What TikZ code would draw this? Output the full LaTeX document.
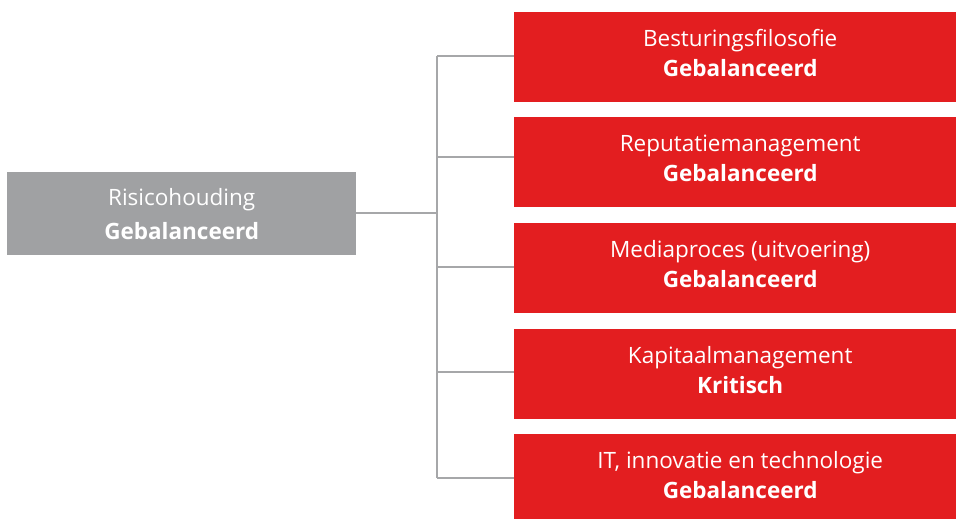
\documentclass[tikz,border=0pt]{standalone}
\usepackage{fontspec}
\setmainfont[Ligatures={NoCommon}]{Open Sans}
\definecolor{boxred}{HTML}{E31E20}
\definecolor{boxgray}{HTML}{A0A1A3}
\definecolor{linegray}{HTML}{A6A7A9}
\begin{document}
\begin{tikzpicture}[x=1pt,y=-1pt,
  redbox/.style={fill=boxred,minimum width=452pt,minimum height=90pt,inner sep=0pt,anchor=north west},
  redtext/.style={text=white,inner sep=0pt,align=center,yshift=4pt,font=\fontsize{22.5}{30}\selectfont},
  graybox/.style={fill=boxgray,text=white,minimum width=349pt,minimum height=83pt,inner sep=0pt,align=center,anchor=north west,font=\fontsize{22.5}{34}\selectfont},
  conn/.style={draw=linegray,line width=2.5pt}]
\useasboundingbox (0,0) rectangle (956,519);
\begin{scope}
\clip (0,0) rectangle (956,519);
\node[graybox] (root) at (7,172) {Risicohouding\\\textbf{Gebalanceerd}};
\node[redbox] (b1) at (514,12) {};
\node[redbox] (b2) at (514,117) {};
\node[redbox] (b3) at (514,223) {};
\node[redbox] (b4) at (514,329) {};
\node[redbox] (b5) at (514,434) {};
\node[redtext] (b1t) at (b1.center) {Besturingsfilosofie\\\textbf{Gebalanceerd}};
\node[redtext] (b2t) at (b2.center) {Reputatiemanagement\\\textbf{Gebalanceerd}};
\node[redtext] (b3t) at (b3.center) {Mediaproces (uitvoering)\\\textbf{Gebalanceerd}};
\node[redtext] (b4t) at (b4.center) {Kapitaalmanagement\\\textbf{Kritisch}};
\node[redtext] (b5t) at (b5.center) {IT, innovatie en technologie\\\textbf{Gebalanceerd}};
\end{scope}
\coordinate (j) at (437,213);
\coordinate (t1) at (437,56);
\coordinate (t2) at (437,157);
\coordinate (t3) at (437,267);
\coordinate (t4) at (437,372);
\coordinate (t5) at (437,478);
\draw[conn] (root.east |- j) -- (j);
\draw[conn] (t1) -- (t5);
\draw[conn] (t1) -- (t1 -| b1.west);
\draw[conn] (t2) -- (t2 -| b2.west);
\draw[conn] (t3) -- (t3 -| b3.west);
\draw[conn] (t4) -- (t4 -| b4.west);
\draw[conn] (t5) -- (t5 -| b5.west);
\end{tikzpicture}
\end{document}
